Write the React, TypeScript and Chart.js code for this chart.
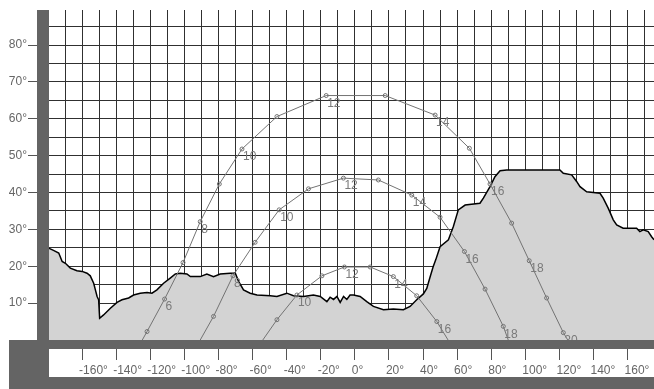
import React, { useEffect, useRef } from 'react';
import { Chart, registerables } from 'chart.js';

Chart.register(...registerables);

// Horizon profile: azimuth (deg) and elevation (deg) of the skyline
const horizonAz = [
  -179.6, -176.8, -173.7, -171.7, -169.8, -166.9, -163.0, -160.0, -157.1, -155.2,
  -153.2, -152.2, -151.2, -150.3, -149.7, -147.4, -143.4, -139.5, -136.6, -132.7,
  -129.8, -125.9, -121.9, -119.0, -116.1, -112.2, -108.3, -105.3, -102.4, -98.5,
  -96.5, -90.7, -86.8, -82.9, -79.0, -73.1, -71.2, -70.2, -68.2, -65.3,
  -61.4, -57.4, -49.6, -45.7, -39.9, -36.0, -30.1, -24.3, -20.3, -16.4,
  -14.5, -12.5, -10.5, -8.6, -6.6, -4.7, -2.8, -0.8, 3.1, 7.0,
  10.9, 16.8, 22.6, 28.5, 32.4, 36.3, 40.2, 42.2, 44.1, 45.9,
  47.5, 50.0, 54.9, 57.8, 60.7, 64.7, 73.4, 75.4, 79.3, 82.2,
  85.2, 89.1, 120.3, 122.3, 127.2, 130.1, 132.1, 136.0, 143.8, 145.7,
  148.7, 151.6, 153.6, 157.4, 165.3, 167.2, 169.2, 172.1, 174.1, 175.5,
];
const horizonAlt = [
  24.9, 24.3, 23.6, 21.3, 20.8, 19.5, 18.8, 18.6, 18.1, 17.4,
  15.4, 13.6, 11.8, 10.9, 5.9, 6.8, 8.6, 10.2, 10.9, 11.4,
  12.2, 12.7, 12.9, 12.7, 13.6, 15.4, 16.8, 17.9, 18.1, 17.9,
  17.2, 17.2, 17.9, 17.2, 17.9, 18.1, 18.1, 18.2, 15.9, 13.6,
  12.7, 12.2, 12.0, 11.8, 12.7, 12.0, 11.8, 12.2, 11.8, 10.4,
  11.6, 11.0, 11.8, 10.2, 11.8, 11.0, 12.2, 12.2, 11.8, 10.4,
  9.1, 8.2, 8.4, 8.2, 9.1, 10.9, 12.5, 14.0, 17.0, 19.8,
  21.8, 25.3, 27.2, 30.8, 35.3, 36.6, 37.1, 38.5, 41.6, 44.3,
  45.9, 46.1, 46.1, 45.2, 44.8, 43.0, 41.6, 40.2, 39.8, 38.5,
  35.7, 32.6, 31.2, 30.3, 30.3, 29.4, 29.9, 29.4, 28.0, 27.2,
];

// Sun path, longest day (sunrise and sunset carry no hour)
const summerHour = [null, 5, 6, 7, 8, 9, 10, 11, 12, 13, 14, 15, 16, 17, 18, 19, 20, null];
const summerAz = [-124.7, -121.9, -111.6, -100.8, -90.7, -79.5, -66.2, -45.7, -16.8, 17.8, 47.1, 67.2, 79.3, 92.0, 102.3, 112.5, 122.3, 124.9];
const summerAlt = [0, 2.3, 11.1, 21.0, 32.1, 42.3, 51.8, 60.6, 66.3, 66.3, 61.0, 52.0, 42.3, 31.7, 21.5, 11.4, 2.0, 0];

// Sun path, equinox
const equinoxHour = [null, 7, 8, 9, 10, 11, 12, 13, 14, 15, 16, 17, 18, null];
const equinoxAz = [-90.7, -82.9, -71.5, -58.5, -44.4, -27.2, -6.7, 13.8, 33.4, 50.0, 64.3, 76.4, 87.1, 90.0];
const equinoxAlt = [0, 6.4, 17.4, 26.5, 35.3, 41.0, 43.9, 43.4, 39.3, 33.3, 24.0, 13.8, 3.7, 0];

// Sun path, shortest day
const winterHour = [null, 9, 10, 11, 12, 13, 14, 15, 16, null];
const winterAz = [-54.0, -45.7, -34.0, -19.3, -6.1, 9.0, 22.6, 36.3, 48.1, 54.7];
const winterAlt = [0, 5.5, 12.2, 17.4, 19.8, 19.8, 17.2, 12.0, 5.0, 0];

// Axis grid and labelled ticks
const altGridValues = [0, 5, 10, 15, 20, 25, 30, 35, 40, 45, 50, 55, 60, 65, 70, 75, 80, 85];
const altLabelValues = [10, 20, 30, 40, 50, 60, 70, 80];
const azGridValues = [
  -180, -170, -160, -150, -140, -130, -120, -110, -100, -90, -80, -70, -60, -50, -40, -30, -20, -10,
  0, 10, 20, 30, 40, 50, 60, 70, 80, 90, 100, 110, 120, 130, 140, 150, 160, 170,
];
const azLabelValues = [-160, -140, -120, -100, -80, -60, -40, -20, 0, 20, 40, 60, 80, 100, 120, 140, 160];

const FONT = '"Liberation Sans", Arial, Helvetica, sans-serif';
const FRAME = '#646464';
const GRID = '#303030';
const TICK = '#555555';
const LABEL = '#666666';
const PATH = '#737373';
const HIDDEN = 'rgba(0,0,0,0)';

// Dark frame round the plot: left bar, bottom band and the strip under the scale
const framePlugin = {
  id: 'frame',
  afterDraw(chart: any) {
    const { ctx, chartArea: a, width, height } = chart;
    ctx.save();
    ctx.fillStyle = FRAME;
    ctx.fillRect(a.left - 11, a.top, 12, a.bottom - a.top);
    ctx.fillRect(9, a.bottom, width - 9, 9);
    ctx.fillRect(9, a.bottom, a.left - 8, height - a.bottom);
    ctx.fillRect(9, height - 12, width - 9, 12);
    ctx.restore();
  },
};

// Even hours written next to their markers
const hourLabelPlugin = {
  id: 'hourLabels',
  afterDatasetsDraw(chart: any) {
    const { ctx, chartArea: a } = chart;
    ctx.save();
    ctx.beginPath();
    ctx.rect(a.left, a.top, a.right - a.left, a.bottom - a.top);
    ctx.clip();
    ctx.font = `12px ${FONT}`;
    ctx.fillStyle = '#7a7a7a';
    ctx.textAlign = 'left';
    ctx.textBaseline = 'middle';
    chart.data.datasets.forEach((ds: any, i: number) => {
      const hours: (number | null)[] | undefined = ds.hours;
      if (!hours) return;
      const meta = chart.getDatasetMeta(i);
      meta.data.forEach((pt: any, j: number) => {
        const h = hours[j];
        if (h == null || h % 2 !== 0) return;
        ctx.fillText(String(h), pt.x + 1, pt.y + 8);
      });
    });
    ctx.restore();
  },
};

function sunPath(label: string, hours: (number | null)[], az: number[], alt: number[]) {
  return {
    label,
    hours,
    data: az.map((x, i) => ({ x, y: alt[i] })),
    borderColor: PATH,
    borderWidth: 1,
    tension: 0,
    fill: false,
    pointRadius: hours.map((h) => (h == null ? 0 : 2)),
    pointBorderColor: PATH,
    pointBackgroundColor: HIDDEN,
    pointBorderWidth: 1,
  };
}

export default function App() {
  const canvasRef = useRef<HTMLCanvasElement | null>(null);

  useEffect(() => {
    if (!canvasRef.current) return;
    const chart = new Chart(canvasRef.current, {
      type: 'line',
      data: {
        datasets: [
          sunPath('21 Jun', summerHour, summerAz, summerAlt),
          sunPath('21 Mar', equinoxHour, equinoxAz, equinoxAlt),
          sunPath('21 Dec', winterHour, winterAz, winterAlt),
          {
            label: 'Horizon',
            data: horizonAz.map((x, i) => ({ x, y: horizonAlt[i] })),
            borderColor: '#000000',
            borderWidth: 1.5,
            tension: 0,
            pointRadius: 0,
            fill: { target: 'start' },
            backgroundColor: '#d3d3d3',
          } as any,
        ],
      },
      options: {
        responsive: false,
        animation: false,
        devicePixelRatio: 1,
        events: [],
        layout: { padding: { top: 10, left: 0, right: 0, bottom: 0 } },
        plugins: {
          legend: { display: false },
          tooltip: { enabled: false },
        },
        scales: {
          x: {
            type: 'linear',
            min: -180,
            max: 175.5,
            afterBuildTicks: (s: any) => {
              s.ticks = azGridValues.map((value) => ({ value }));
            },
            afterFit: (s: any) => {
              s.height = 49;
            },
            border: { display: false },
            grid: {
              color: GRID,
              lineWidth: 1,
              drawTicks: true,
              tickLength: 20,
              tickWidth: 1,
              tickColor: (c: any) => (azLabelValues.includes(c.tick?.value) ? TICK : HIDDEN),
            },
            ticks: {
              autoSkip: false,
              maxRotation: 0,
              minRotation: 0,
              align: 'start',
              labelOffset: -3,
              padding: 3,
              color: LABEL,
              font: { family: FONT, size: 12 },
              callback: (v: any) => (azLabelValues.includes(Number(v)) ? `${v}°` : ''),
            },
          },
          y: {
            type: 'linear',
            min: 0,
            max: 89.5,
            afterBuildTicks: (s: any) => {
              s.ticks = altGridValues.map((value) => ({ value }));
            },
            afterFit: (s: any) => {
              s.width = 48;
            },
            border: { display: false },
            grid: {
              color: GRID,
              lineWidth: 1,
              drawTicks: true,
              tickLength: 20,
              tickWidth: 1,
              tickColor: (c: any) => (altLabelValues.includes(c.tick?.value) ? TICK : HIDDEN),
            },
            ticks: {
              autoSkip: false,
              padding: 1,
              color: LABEL,
              font: { family: FONT, size: 12 },
              callback: (v: any) => (altLabelValues.includes(Number(v)) ? `${v}°` : ''),
            },
          },
        },
      } as any,
      plugins: [hourLabelPlugin, framePlugin],
    });
    return () => chart.destroy();
  }, []);

  return (
    <div
      style={{
        position: 'fixed',
        left: 0,
        top: 0,
        width: 654,
        height: 389,
        overflow: 'hidden',
        background: '#ffffff',
      }}
    >
      <canvas ref={canvasRef} width={654} height={389} style={{ display: 'block' }} />
    </div>
  );
}
